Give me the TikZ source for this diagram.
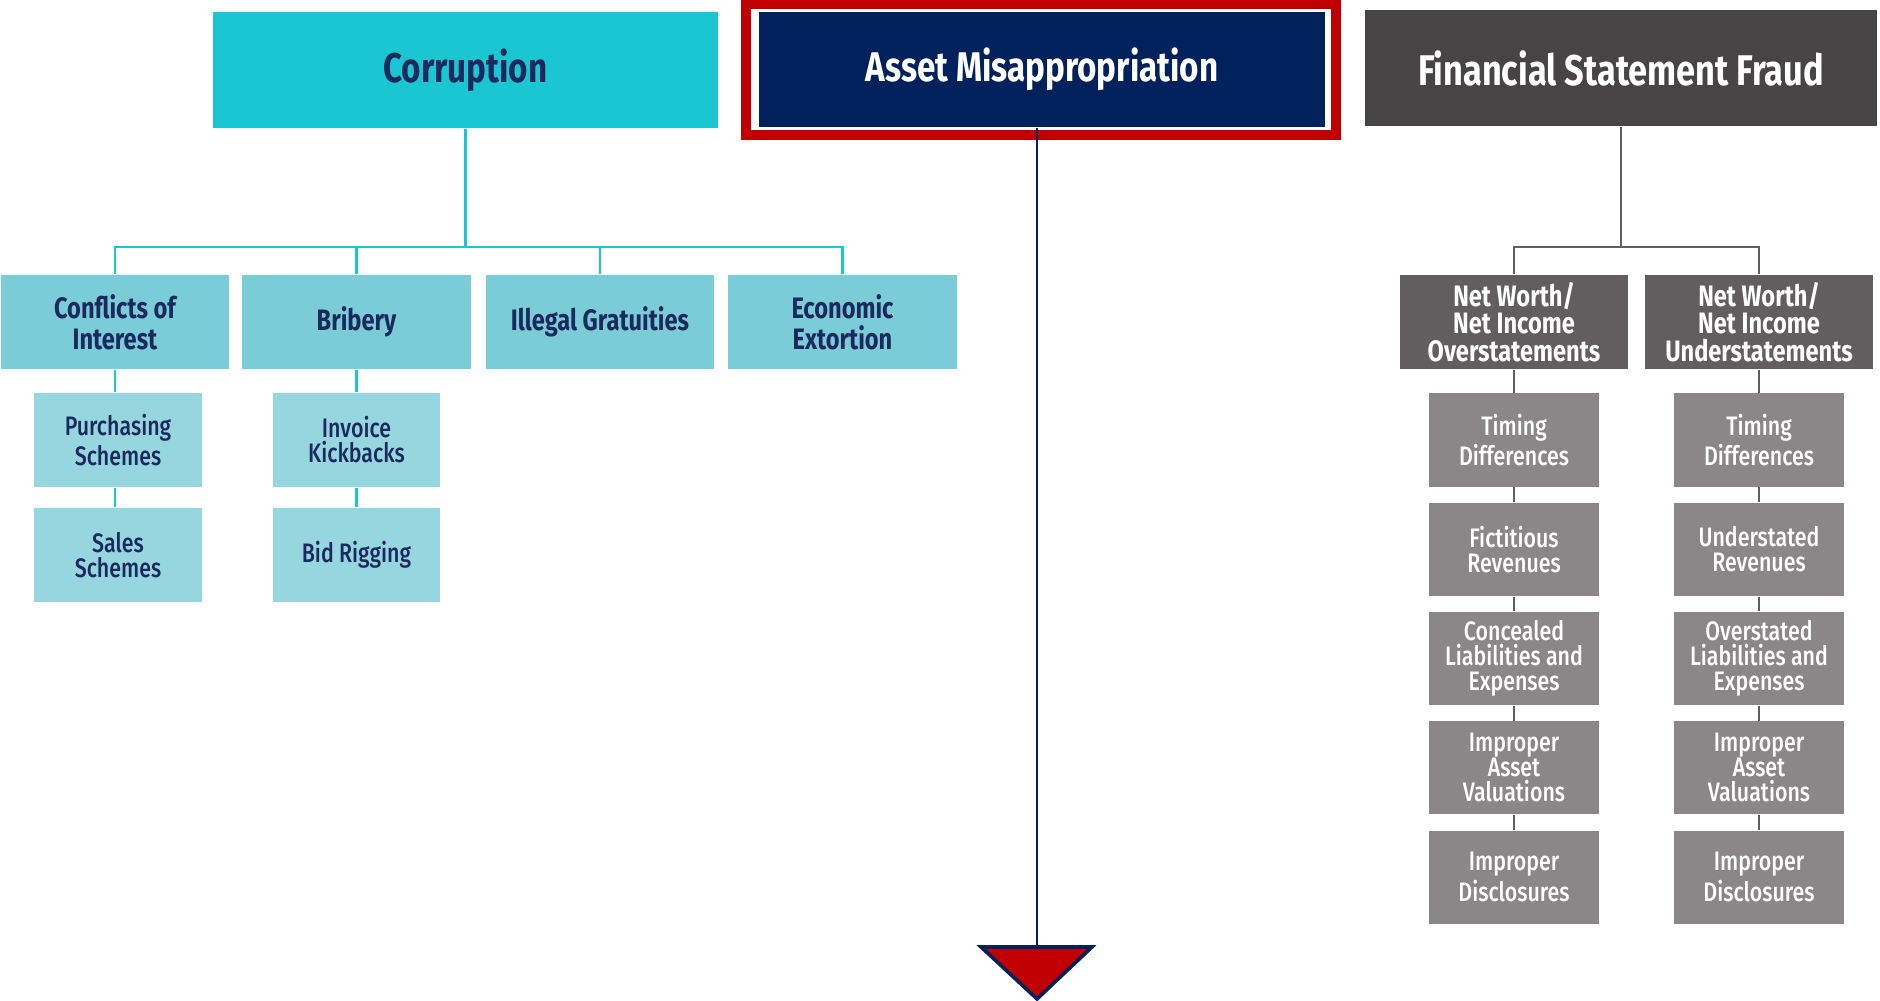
\documentclass[tikz,border=0pt]{standalone}
\usepackage{fontspec}
\setmainfont[FakeStretch=0.8]{Fira Sans}
\newfontfamily\medfont[FakeStretch=0.8]{Fira Sans Medium}
\usetikzlibrary{positioning,calc}
\definecolor{corrcyan}{HTML}{1AC6D1}
\definecolor{corrmidc}{HTML}{7ACCD6}
\definecolor{corrsubc}{HTML}{96D6DE}
\definecolor{corrnavy}{HTML}{1A2A5E}
\definecolor{assetnavy}{HTML}{00215C}
\definecolor{assetred}{HTML}{C00000}
\definecolor{fsftop}{HTML}{464445}
\definecolor{fsfmid}{HTML}{625E5F}
\definecolor{fsfsubc}{HTML}{8B8788}

\begin{document}
\begin{tikzpicture}[x=0.01cm, y=-0.01cm,
    corrtop/.style={fill=corrcyan, text=corrnavy, inner sep=0pt, minimum width=5.05cm, minimum height=1.16cm, font=\bfseries\fontsize{11.8}{12}\selectfont},
    corrmid/.style={fill=corrmidc, text=corrnavy, inner sep=0pt, align=center, minimum width=2.28cm, minimum height=0.94cm, font=\bfseries\fontsize{8.4}{8.8}\selectfont},
    corrsub/.style={fill=corrsubc, text=corrnavy, inner sep=0pt, align=center, minimum width=1.67cm, minimum height=0.94cm, font=\medfont\fontsize{7.6}{7.1}\selectfont},
    fsfhead/.style={fill=fsftop, text=white, inner sep=0pt, minimum width=5.11cm, minimum height=1.16cm, font=\bfseries\fontsize{12.2}{12}\selectfont},
    fsfmidbox/.style={fill=fsfmid, text=white, inner sep=0pt, align=center, minimum width=2.28cm, minimum height=0.94cm, font=\bfseries\fontsize{8.4}{7.9}\selectfont},
    fsfsub/.style={fill=fsfsubc, text=white, inner sep=0pt, align=center, minimum width=1.69cm, minimum height=0.93cm, font=\medfont\fontsize{7.6}{7.1}\selectfont},
    corrline/.style={draw=corrcyan, line width=0.75pt},
    fsfline/.style={draw=fsfmid, line width=0.75pt}]
    \useasboundingbox (0,0) rectangle (1880,1001);

    % Top row
    \node[corrtop] (corr) at (465.5,70) {Corruption};
    \node[fill=assetnavy, text=white, inner sep=0pt, minimum width=5.66cm, minimum height=1.15cm,
          font=\bfseries\fontsize{11.8}{12}\selectfont] (asset) at (1042,69.5) {Asset Misappropriation};
    \draw[assetred, line width=0.1cm] ($(asset.north west)+(-12,-7)$) rectangle ($(asset.south east)+(10,7)$);
    \node[fsfhead] (fsf) at (1621,68) {Financial Statement Fraud};

    % Corruption branch
    \coordinate (cj) at (465.5,247);
    \node[corrmid] (conf) at (115,322) {Conflicts of\\Interest};
    \node[corrmid] (brib) at (356.5,322) {Bribery};
    \node[corrmid] (grat) at (600,322) {Illegal Gratuities};
    \node[corrmid] (extn) at (842.5,322) {Economic\\Extortion};
    \draw[corrline] (corr.south) -- (cj);
    \draw[corrline] (conf.north) |- (cj) -| (extn.north);
    \draw[corrline] (brib.north) -- (brib.north |- cj);
    \draw[corrline] (grat.north) -- (grat.north |- cj);

    \node[corrsub] (purch) at (118,440) {Purchasing\\Schemes};
    \node[corrsub] (sales) at (118,555) {Sales\\Schemes};
    \node[corrsub] (kick) at (356.5,440) {Invoice\\Kickbacks};
    \node[corrsub] (bid) at (356.5,555) {Bid Rigging};
    \draw[corrline] (conf.south) -- (conf.south |- purch.north);
    \draw[corrline] (conf.south |- purch.south) -- (conf.south |- sales.north);
    \draw[corrline] (brib.south) -- (kick.north);
    \draw[corrline] (kick.south) -- (bid.north);

    % Asset misappropriation arrow
    \coordinate (arr) at (1037,947);
    \draw[assetnavy, line width=0.8pt] (arr |- asset.south) -- (arr);
    \draw[fill=assetred, draw=assetnavy, line width=1pt] ($(arr)+(-56,0)$) -- ($(arr)+(55,0)$) -- ($(arr)+(0,52)$) -- cycle;

    % Financial statement fraud branch
    \coordinate (fj) at (1621,247);
    \node[fsfmidbox] (over) at (1514,322) {Net Worth/\\Net Income\\Overstatements};
    \node[fsfmidbox] (under) at (1759,322) {Net Worth/\\Net Income\\Understatements};
    \draw[fsfline] (fsf.south) -- (fj);
    \draw[fsfline] (over.north) |- (fj) -| (under.north);

    \foreach \i/\txt in {1/{Timing\\Differences}, 2/{Fictitious\\Revenues}, 3/{Concealed\\Liabilities and\\Expenses},
                         4/{Improper\\Asset\\Valuations}, 5/{Improper\\Disclosures}} {
        \node[fsfsub] (ov\i) at (1514,{440+109.3*(\i-1)}) {\txt};
    }
    \foreach \i/\txt in {1/{Timing\\Differences}, 2/{Understated\\Revenues}, 3/{Overstated\\Liabilities and\\Expenses},
                         4/{Improper\\Asset\\Valuations}, 5/{Improper\\Disclosures}} {
        \node[fsfsub] (un\i) at (1759,{440+109.3*(\i-1)}) {\txt};
    }
    \draw[fsfline] (over.south) -- (ov1.north);
    \draw[fsfline] (under.south) -- (un1.north);
    \foreach \i/\j in {1/2, 2/3, 3/4, 4/5} {
        \draw[fsfline] (ov\i.south) -- (ov\j.north);
        \draw[fsfline] (un\i.south) -- (un\j.north);
    }
\end{tikzpicture}
\end{document}
